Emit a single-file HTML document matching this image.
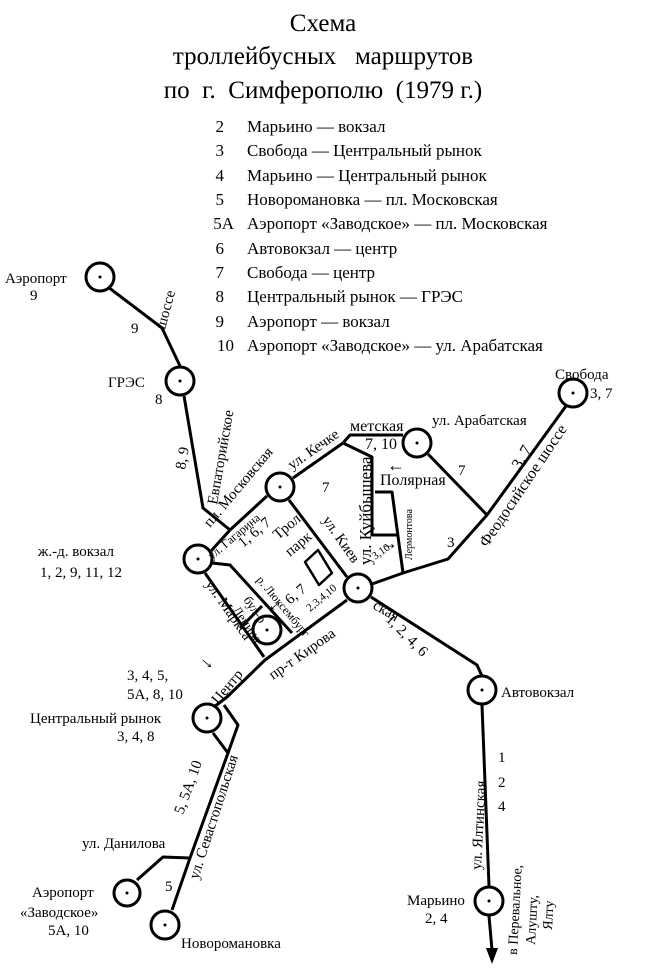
<!DOCTYPE html>
<html><head><meta charset="utf-8"><style>
html,body{margin:0;padding:0;background:#fff}
svg{display:block}
text{font-family:"Liberation Serif",serif;fill:#000}
</style></head><body>
<svg width="650" height="969" viewBox="0 0 650 969" xmlns="http://www.w3.org/2000/svg">
<g font-size="25" text-anchor="middle">
<text x="323" y="31">Схема</text>
<text x="323" y="64">троллейбусных&#160;&#160; маршрутов</text>
<text x="323" y="98">по&#160; г.&#160; Симферополю&#160; (1979 г.)</text>
</g>
<g font-size="17">
<g text-anchor="end">
<text x="224" y="132">2</text><text x="224" y="156">3</text><text x="224" y="181">4</text><text x="224" y="205">5</text><text x="234" y="229">5А</text><text x="224" y="254">6</text><text x="224" y="278">7</text><text x="224" y="302">8</text><text x="224" y="327">9</text><text x="234" y="351">10</text>
</g>
<text x="247" y="132">Марьино — вокзал</text>
<text x="247" y="156">Свобода — Центральный рынок</text>
<text x="247" y="181">Марьино — Центральный рынок</text>
<text x="247" y="205">Новоромановка — пл. Московская</text>
<text x="247" y="229">Аэропорт «Заводское» — пл. Московская</text>
<text x="247" y="254">Автовокзал — центр</text>
<text x="247" y="278">Свобода — центр</text>
<text x="247" y="302">Центральный рынок — ГРЭС</text>
<text x="247" y="327">Аэропорт — вокзал</text>
<text x="247" y="351">Аэропорт «Заводское» — ул. Арабатская</text>
</g>
<g fill="none" stroke="#000" stroke-width="3" stroke-linejoin="round">
<polyline points="108,287 162,328 180,366"/>
<polyline points="184,396 203,508 230,530"/>
<polyline points="211,551 230,530 267,496"/>
<polyline points="293,478 343,443 350,435 403,435"/>
<polyline points="343,443 372,457 372,535 398,535"/>
<polyline points="375,492 392,492 403,573"/>
<polyline points="372,584 403,573 448,559 487,515"/>
<polyline points="428,454 487,515 566,406"/>
<polyline points="289,500 347,577"/>
<polyline points="212,563 230,565 292,633"/>
<polyline points="214,707 227,697 265,660 347,600"/>
<polyline points="205,573 264,657"/>
<polyline points="240,628 262,606"/>
<polyline points="371,597 477,665 482,676"/>
<polyline points="482,705 489,886"/>
<polyline points="489,916 492,950"/>
<polyline points="224,705 238,725 228,753 213,733"/>
<polyline points="228,753 190,858 172,910"/>
<polyline points="190,858 163,857 137,880"/>
<polygon points="305,562 318,550 332,573 319,585" stroke-width="2.5"/>
</g>
<polygon points="486,948 498,948 492,964" fill="#000"/>
<g fill="#fff" stroke="#000" stroke-width="3">
<circle cx="100" cy="277" r="14"/><circle cx="180" cy="381" r="14"/>
<circle cx="198" cy="559" r="14"/><circle cx="280" cy="487" r="14"/>
<circle cx="417" cy="443" r="14"/><circle cx="573" cy="393" r="14"/>
<circle cx="358" cy="588" r="14"/><circle cx="267" cy="630" r="14"/>
<circle cx="207" cy="718" r="14"/><circle cx="482" cy="690" r="14"/>
<circle cx="489" cy="901" r="14"/><circle cx="127" cy="893" r="13"/>
<circle cx="165" cy="925" r="14"/>
</g>
<g fill="#000">
<circle cx="100" cy="277" r="1.5"/><circle cx="180" cy="381" r="1.5"/><circle cx="198" cy="559" r="1.5"/><circle cx="280" cy="487" r="1.5"/><circle cx="417" cy="443" r="1.5"/><circle cx="573" cy="393" r="1.5"/><circle cx="358" cy="588" r="1.5"/><circle cx="267" cy="630" r="1.5"/><circle cx="207" cy="718" r="1.5"/><circle cx="482" cy="690" r="1.5"/><circle cx="489" cy="901" r="1.5"/><circle cx="127" cy="893" r="1.5"/><circle cx="165" cy="925" r="1.5"/>
</g>
<g font-size="15">
<text x="5" y="283">Аэропорт</text><text x="30" y="300">9</text>
<text x="131" y="333">9</text>
<text x="108" y="387">ГРЭС</text><text x="155" y="404">8</text>
<text x="555" y="379">Свобода</text><text x="590" y="398">3, 7</text>
<text x="432" y="425">ул. Арабатская</text>
<text x="38" y="556">ж.-д. вокзал</text><text x="40" y="577">1, 2, 9, 11, 12</text>
<text x="322" y="492">7</text><text x="458" y="475">7</text><text x="447" y="547">3</text>
<text x="501" y="697">Автовокзал</text>
<text x="498" y="762">1</text><text x="498" y="787">2</text><text x="498" y="811">4</text>
<text x="407" y="905">Марьино</text><text x="425" y="923">2, 4</text>
<text x="127" y="680">3, 4, 5,</text><text x="127" y="699">5А, 8, 10</text>
<text x="30" y="723">Центральный рынок</text><text x="117" y="741">3, 4, 8</text>
<text x="82" y="848">ул. Данилова</text>
<text x="32" y="897">Аэропорт</text><text x="20" y="917">«Заводское»</text><text x="48" y="935">5А, 10</text>
<text x="165" y="891">5</text>
<text x="181" y="948">Новоромановка</text>
<text x="365" y="449" font-size="16">7, 10</text>
<text x="380" y="485" font-size="16">Полярная</text>
<text x="387" y="471" font-size="18">←</text><text x="380" y="549" font-size="18">→</text>
<text x="270" y="614" transform="rotate(-40 270 614)" font-size="18">←</text>
<text x="198" y="660" transform="rotate(40 198 660)" font-size="18">→</text>
</g>
<g font-size="15">
<text transform="translate(165,330) rotate(-75)">шоссе</text>
<text transform="translate(217,505) rotate(-80)">Евпаторийское</text>
<text transform="translate(185,470) rotate(-80)">8, 9</text>
<text transform="translate(210,528) rotate(-50)">пл. Московская</text>
<text transform="translate(292,470) rotate(-35)">ул. Кечке</text>
<text x="350" y="431" font-size="16">метская</text>
<text transform="translate(371,565) rotate(-90)" font-size="17">ул. Куйбышева</text>
<text transform="translate(412,560) rotate(-90)" font-size="10">Лермонтова</text>
<text transform="translate(487,548) rotate(-56)" font-size="16">Феодосийское шоссе</text>
<text transform="translate(520,470) rotate(-60)" font-size="16">3, 7</text>
<text transform="translate(212,560) rotate(-40)" font-size="12">ул. Гагарина</text>
<text transform="translate(243,548) rotate(-40)">1, 6, 7</text>
<text transform="translate(278,540) rotate(-40)">Трол.</text>
<text transform="translate(290,557) rotate(-40)">парк</text>
<text transform="translate(322,520) rotate(55)">ул. Киев</text>
<text x="372" y="608" transform="rotate(30 372 608)">ская</text>
<text transform="translate(375,560) rotate(-35)" font-size="11">3,10</text>
<text transform="translate(243,600) rotate(55)" font-size="13">бул-р</text>
<text transform="translate(232,610) rotate(55)" font-size="13">Ленина</text>
<text transform="translate(256,580) rotate(50)" font-size="12">р. Люксембург</text>
<text transform="translate(290,605) rotate(-40)">6, 7</text>
<text transform="translate(205,584) rotate(55)">ул. Маркса</text>
<text transform="translate(310,612) rotate(-40)" font-size="11">2,3,4,10</text>
<text transform="translate(273,680) rotate(-35)">пр-т Кирова</text>
<text transform="translate(218,705) rotate(-50)">Центр</text>
<text transform="translate(385,620) rotate(45)">1, 2, 4, 6</text>
<text transform="translate(481,870) rotate(-87)">ул. Ялтинская</text>
<text transform="translate(517,955) rotate(-87)" font-size="14">в Перевальное,</text>
<text transform="translate(535,945) rotate(-87)" font-size="14">Алушту,</text>
<text transform="translate(552,930) rotate(-87)" font-size="14">Ялту</text>
<text transform="translate(183,815) rotate(-70)">5, 5А, 10</text>
<text transform="translate(198,880) rotate(-72)">ул. Севастопольская</text>
</g>
</svg>
</body></html>
